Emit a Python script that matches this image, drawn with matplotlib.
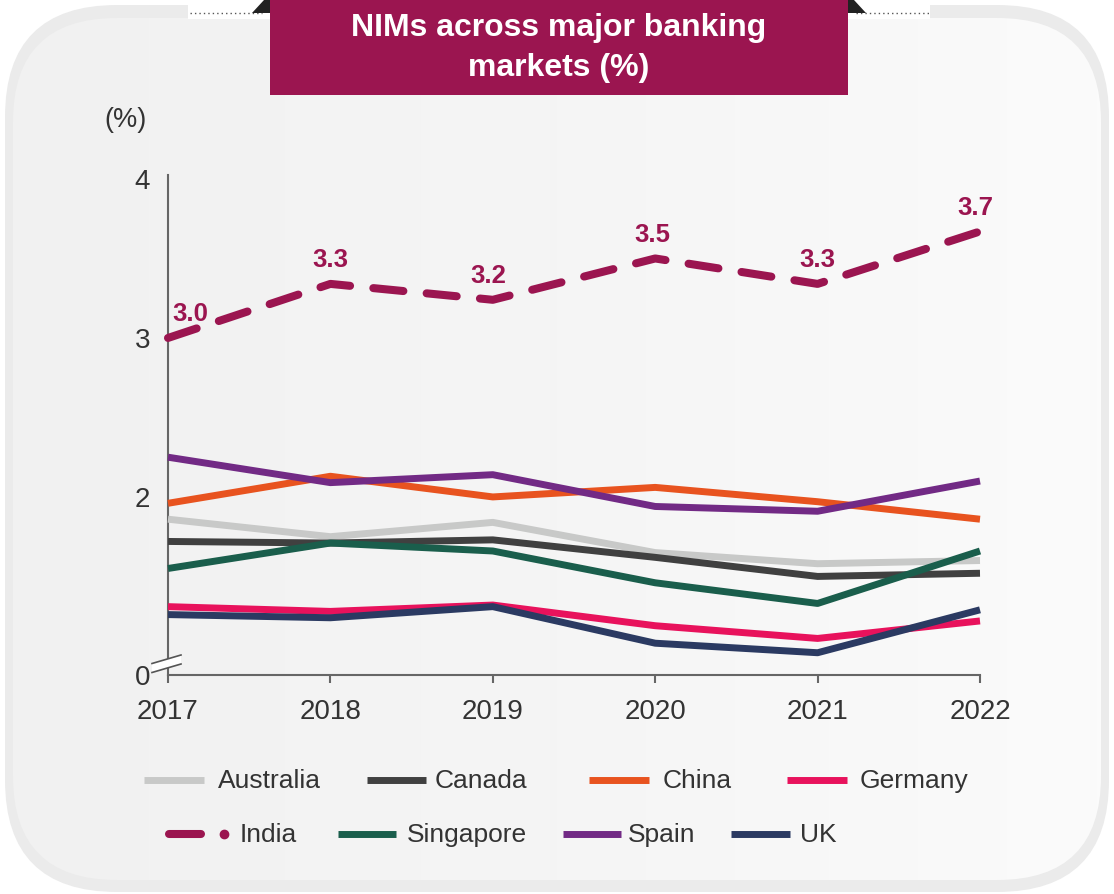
import numpy as np
import matplotlib.pyplot as plt
from matplotlib.patches import FancyBboxPatch, Rectangle, Polygon
from matplotlib.colors import LinearSegmentedColormap

plt.rcParams['font.family'] = ['Liberation Sans', 'DejaVu Sans']

# Net interest margins (%) by market
years = [2017, 2018, 2019, 2020, 2021, 2022]
australia = [1.86, 1.75, 1.84, 1.65, 1.58, 1.60]
canada = [1.72, 1.71, 1.73, 1.62, 1.50, 1.52]
china = [1.96, 2.13, 2.00, 2.06, 1.97, 1.86]
germany = [1.31, 1.28, 1.32, 1.19, 1.11, 1.22]
india = [3.00, 3.34, 3.24, 3.50, 3.34, 3.67]
singapore = [1.55, 1.71, 1.66, 1.46, 1.33, 1.66]
spain = [2.25, 2.09, 2.14, 1.94, 1.91, 2.10]
uk = [1.26, 1.24, 1.31, 1.08, 1.02, 1.29]

countries = ['Australia', 'Canada', 'China', 'Germany', 'India', 'Singapore', 'Spain', 'UK']
series = [australia, canada, china, germany, india, singapore, spain, uk]
colors = ['#c8c9c8', '#404040', '#e8531f', '#e8125c', '#9b1550', '#1a5e4c', '#722a85', '#2b3a62']

y_ticks = [0.88, 2, 3, 4]
y_tick_labels = ['0', '2', '3', '4']

W, H = 1114, 894
fig = plt.figure(figsize=(W / 100, H / 100), dpi=100)
fig.patch.set_facecolor('white')

# pixel-space background layer
bg = fig.add_axes([0, 0, 1, 1], zorder=0)
bg.set_xlim(0, W)
bg.set_ylim(H, 0)
bg.axis('off')

outer = FancyBboxPatch((5, 5), 1104, 887, boxstyle='round,pad=0,rounding_size=112',
                       facecolor='#ebebeb', edgecolor='none')
bg.add_patch(outer)
inner = FancyBboxPatch((13, 18), 1088, 862, boxstyle='round,pad=0,rounding_size=104',
                       facecolor='none', edgecolor='none')
bg.add_patch(inner)
grad_cmap = LinearSegmentedColormap.from_list('panel', ['#f1f1f1', '#f5f5f5', '#fbfbfb'])
im = bg.imshow(np.linspace(0, 1, 256).reshape(1, -1), cmap=grad_cmap, aspect='auto',
               extent=(13, 1101, 880, 18), zorder=1)
im.set_clip_path(inner)

# header strip with the title tab
bg.add_patch(Rectangle((188, 0), 742, 18.5, facecolor='white', edgecolor='none', zorder=2))
bg.plot([190, 262], [12.5, 12.5], ls=(0, (1, 2.2)), color='#555555', lw=1, zorder=3)
bg.plot([856, 930], [12.5, 12.5], ls=(0, (1, 2.2)), color='#555555', lw=1, zorder=3)
bg.add_patch(Polygon([(252, 13), (264, 0), (272, 0), (272, 13)], closed=True,
                     facecolor='#222222', edgecolor='none', zorder=3))
bg.add_patch(Polygon([(846, 13), (846, 0), (854, 0), (866, 13)], closed=True,
                     facecolor='#222222', edgecolor='none', zorder=3))
bg.add_patch(Rectangle((270, 0), 578, 95, facecolor='#9b1550', edgecolor='none', zorder=4))
bg.text(559, 48, 'NIMs across major banking\nmarkets (%)', color='white', fontsize=23,
        fontweight='bold', ha='center', va='center', linespacing=1.4, zorder=5)

bg.text(125, 120, '(%)', fontsize=19.5, color='#333333', ha='center', va='center', zorder=5)

# main plot
ax = fig.add_axes([168 / W, 1 - 675 / H, (980 - 168) / W, (675 - 175) / H], zorder=1)
ax.patch.set_alpha(0)
ax.set_xlim(2017, 2022)
ax.set_ylim(0.88, 4.025)
for s in ['top', 'right']:
    ax.spines[s].set_visible(False)
for s in ['left', 'bottom']:
    ax.spines[s].set_color('#666666')
    ax.spines[s].set_linewidth(1.5)

ax.set_xticks(years)
ax.set_xticklabels([str(y) for y in years])
ax.set_yticks(y_ticks)
ax.set_yticklabels(y_tick_labels)
ax.tick_params(axis='x', length=6, width=1.5, color='#666666', pad=11,
               labelsize=20, labelcolor='#333333')
ax.tick_params(axis='y', length=0, pad=13, labelsize=20, labelcolor='#333333')

for name, vals, col in zip(countries, series, colors):
    if name == 'India':
        ax.plot(years, vals, color=col, lw=5.8, ls=(0, (3.75, 2.9)),
                dash_capstyle='round', dash_joinstyle='round', clip_on=False, zorder=5)
    else:
        ax.plot(years, vals, color=col, lw=5, solid_capstyle='butt',
                solid_joinstyle='round', clip_on=False, zorder=4)

# value labels for India
label_dx = [16, 0, -3, -2, 0, -3]
for x, v, dx in zip(years, india, label_dx):
    ax.annotate(f'{v:.1f}', (x, v), xytext=(dx, 17), textcoords='offset points',
                ha='center', va='center', fontsize=18.5, fontweight='bold', color='#9b1550',
                annotation_clip=False)

# axis break marks
ax.add_patch(Polygon([(152, 663.5), (181, 655), (181, 664), (152, 672.5)], closed=True,
                     transform=bg.transData, facecolor='white', edgecolor='none',
                     clip_on=False, zorder=6))
ax.plot([152, 181], [663.5, 655], transform=bg.transData, color='#555555', lw=1.2,
        clip_on=False, zorder=7)
ax.plot([152, 181], [672.5, 664], transform=bg.transData, color='#555555', lw=1.2,
        clip_on=False, zorder=7)

# legend laid out in two rows
legend_pos = {
    'Australia': (144, 204, 218, 780), 'Canada': (367, 426, 435, 780),
    'China': (589, 649, 663, 780), 'Germany': (787, 847, 860, 780),
    'India': (165, 205, 240, 834), 'Singapore': (338, 396, 407, 834),
    'Spain': (563, 621, 628, 834), 'UK': (731, 790, 800, 834),
}
for name, col in zip(countries, colors):
    x0, x1, tx, yy = legend_pos[name]
    if name == 'India':
        bg.plot([x0 + 4, x1 - 4], [yy, yy], color=col, lw=5.8, solid_capstyle='round', zorder=5)
        bg.plot([224], [yy], marker='o', ms=6, color=col, zorder=5)
    else:
        bg.plot([x0, x1], [yy, yy], color=col, lw=5, solid_capstyle='butt', zorder=5)
    bg.text(tx, yy + 1, name, fontsize=19, color='#333333', ha='left', va='center', zorder=5)

fig.savefig('out.png', dpi=100, facecolor='white')
